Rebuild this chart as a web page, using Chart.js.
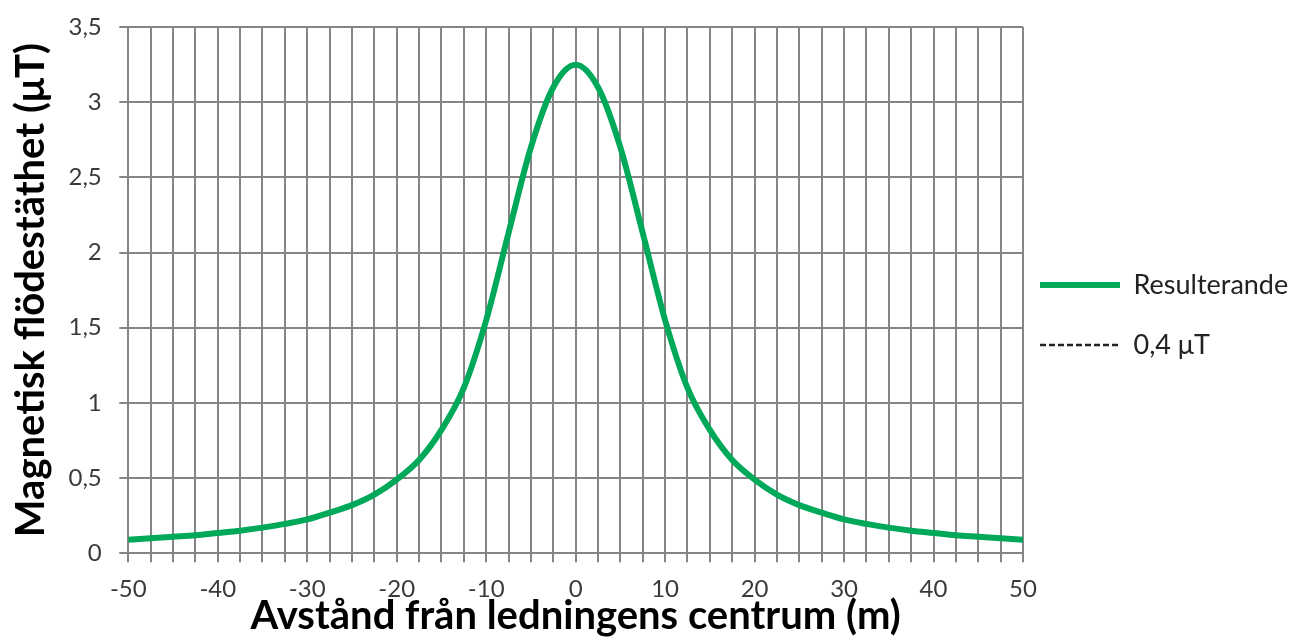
<!doctype html>
<html>
  <head>
    <script src="https://cdn.jsdelivr.net/npm/chart.js"></script>
    <meta name="viewport" content="width=device-width, initial-scale=1" />
    <style>
      html, body { margin: 0; padding: 0; background: #fff; }
      #wrap { width: 1295px; height: 637px; }
    </style>
  </head>
  <body>
    <div id="wrap"><canvas id="fieldChart"></canvas></div>
    <script>
      // distance from line centre (m)
      const distances = [
        -50, -47.5, -45, -42.5, -40, -37.5, -35, -32.5, -30, -27.5, -25,
        -22.5, -20, -17.5, -15, -12.5, -10, -7.5, -5, -2.5, 0,
        2.5, 5, 7.5, 10, 12.5, 15, 17.5, 20, 22.5, 25,
        27.5, 30, 32.5, 35, 37.5, 40, 42.5, 45, 47.5, 50
      ];
      // resulting flux density (uT)
      const resulterande = [
        0.09, 0.10, 0.11, 0.12, 0.135, 0.15, 0.17, 0.195, 0.225, 0.27, 0.32,
        0.39, 0.49, 0.62, 0.82, 1.10, 1.55, 2.13, 2.70, 3.10, 3.25,
        3.10, 2.70, 2.13, 1.55, 1.10, 0.82, 0.62, 0.49, 0.39, 0.32,
        0.27, 0.225, 0.195, 0.17, 0.15, 0.135, 0.12, 0.11, 0.10, 0.09
      ];
      const xLabels = [-50, -40, -30, -20, -10, 0, 10, 20, 30, 40, 50];
      const referenceLevel = []; // 0,4 uT line, only in the legend

      const gridColor = "#858585";
      const font = "Lato, 'Open Sans', sans-serif";

      // pull the legend a bit closer to the plot and up
      const legendNudge = {
        id: "legendNudge",
        afterLayout(chart) {
          const lg = chart.legend;
          lg.left -= 16;
          lg.top -= 5;
          lg.bottom -= 5;
        },
      };

      const ctx = document.getElementById("fieldChart").getContext("2d");
      const chart = new Chart(ctx, {
        type: "line",
        data: {
          datasets: [
            {
              label: "Resulterande",
              data: distances.map((d, i) => ({ x: d, y: resulterande[i] })),
              borderColor: "#00a859",
              backgroundColor: "#00a859",
              borderWidth: 6,
              pointRadius: 0,
              cubicInterpolationMode: "monotone",
            },
            {
              label: "0,4 μT",
              data: referenceLevel,
              borderColor: "#222",
              backgroundColor: "#222",
              borderWidth: 2.5,
              borderDash: [6, 3],
              pointRadius: 0,
            },
          ],
        },
        plugins: [legendNudge],
        options: {
          responsive: true,
          maintainAspectRatio: false,
          animation: false,
          layout: { padding: { top: 3, right: 0, left: 11, bottom: 0 } },
          plugins: {
            tooltip: { enabled: false },
            legend: {
              position: "right",
              maxWidth: 272,
              labels: {
                usePointStyle: true,
                pointStyle: "line",
                pointStyleWidth: 80,
                boxHeight: 8,
                padding: 33,
                color: "#222",
                font: { family: font, size: 27 },
                generateLabels: (c) =>
                  Chart.defaults.plugins.legend.labels
                    .generateLabels(c)
                    .map((item) => {
                      const ds = c.data.datasets[item.datasetIndex];
                      item.lineWidth = ds.borderWidth;
                      item.lineDash = ds.borderDash || [];
                      item.strokeStyle = ds.borderColor;
                      return item;
                    }),
              },
            },
          },
          scales: {
            x: {
              type: "linear",
              min: -50,
              max: 50,
              grid: { color: gridColor, lineWidth: 2, tickLength: 9 },
              border: { color: gridColor, width: 2 },
              ticks: {
                stepSize: 2.5,
                autoSkip: false,
                maxRotation: 0,
                padding: 13,
                color: "#3a3a3a",
                font: { family: font, size: 24 },
                callback: (v) => (xLabels.includes(v) ? String(v) : ""),
              },
              title: {
                display: true,
                text: "Avstånd från ledningens centrum (m)",
                color: "#000",
                padding: { top: -21, bottom: 1 },
                font: { family: font, size: 40, weight: "bold", lineHeight: 1 },
              },
            },
            y: {
              min: 0,
              max: 3.5,
              grid: { color: gridColor, lineWidth: 2, tickLength: 9 },
              border: { color: gridColor, width: 2 },
              ticks: {
                stepSize: 0.5,
                padding: 17.5,
                color: "#3a3a3a",
                font: { family: font, size: 24, lineHeight: 0.8 },
                callback: (v) => String(v).replace(".", ","),
              },
              title: {
                display: true,
                text: "Magnetisk flödestäthet (μT)",
                color: "#000",
                padding: { top: 0, bottom: 0 },
                font: { family: font, size: 40, weight: "bold", lineHeight: 1 },
              },
            },
          },
        },
      });
    </script>
  </body>
</html>
